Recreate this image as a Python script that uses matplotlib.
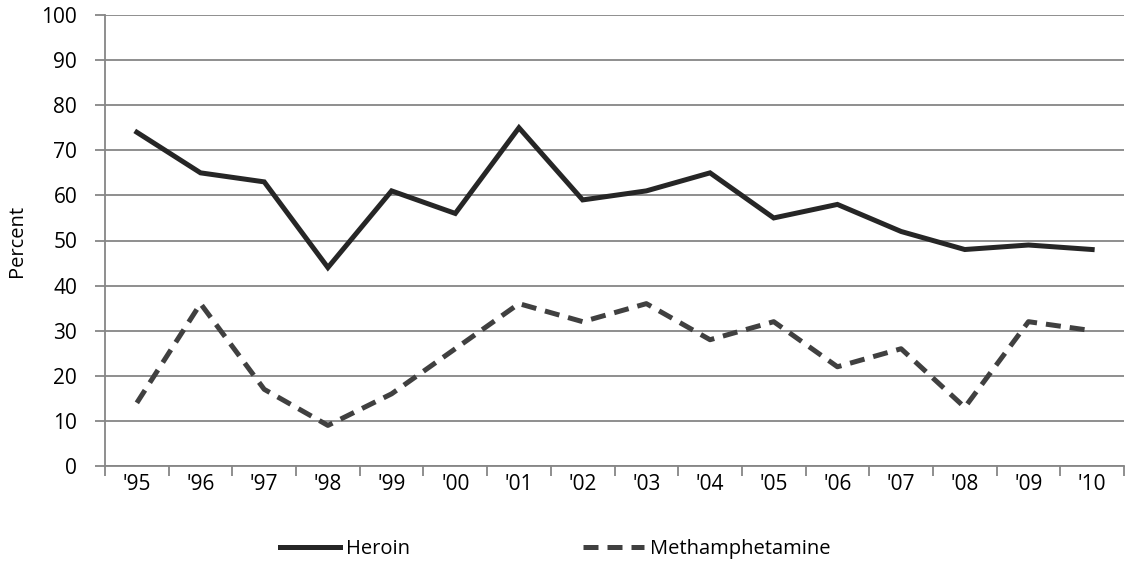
import matplotlib.pyplot as plt
import numpy as np

years = ["'95", "'96", "'97", "'98", "'99", "'00", "'01", "'02",
         "'03", "'04", "'05", "'06", "'07", "'08", "'09", "'10"]
heroin = [74, 65, 63, 44, 61, 56, 75, 59, 61, 65, 55, 58, 52, 48, 49, 48]
meth = [14, 36, 17, 9, 16, 26, 36, 32, 36, 28, 32, 22, 26, 13, 32, 30]

plt.rcParams['font.family'] = ['Open Sans', 'DejaVu Sans']

fig = plt.figure(figsize=(11.26, 5.68), dpi=100)
ax = fig.add_axes([105 / 1126, 102 / 568, 1019 / 1126, 451 / 568])

x = np.arange(len(years))
ax.plot(x, heroin, color='#262626', lw=3.6, solid_joinstyle='miter', label='Heroin', zorder=3)
ax.plot(x, meth, color='#404040', lw=3.6, linestyle=(0, (3, 1.8)), label='Methamphetamine', zorder=3)

ax.set_xlim(-0.5, len(years) - 0.5)
ax.set_ylim(0, 100)
ax.set_yticks(range(0, 101, 10))
ax.set_xticks(x)
ax.set_xticklabels(years)
ax.set_xticks(np.arange(-0.5, len(years), 1), minor=True)
ax.tick_params(axis='x', which='major', length=0, pad=6, labelsize=15)
ax.tick_params(axis='x', which='minor', length=7, color='#868686', width=1.3)
ax.tick_params(axis='y', length=7, color='#868686', width=1.3, labelsize=15, pad=13)
ax.yaxis.grid(True, color='#868686', lw=1.3)
ax.set_axisbelow(True)
for side in ['top', 'right']:
    ax.spines[side].set_visible(False)
for side in ['left', 'bottom']:
    ax.spines[side].set_color('#868686')
    ax.spines[side].set_linewidth(1.3)
ax.set_ylabel('Percent', fontsize=14.5)
ax.yaxis.set_label_coords(-78 / 1019, 0.5)

fig.legend(loc='center', bbox_to_anchor=(555 / 1126, 19 / 568), ncol=2, frameon=False,
           fontsize=14.5, handlelength=3.0, handletextpad=0.3, columnspacing=8.6)

plt.savefig('out.png', format='png')
